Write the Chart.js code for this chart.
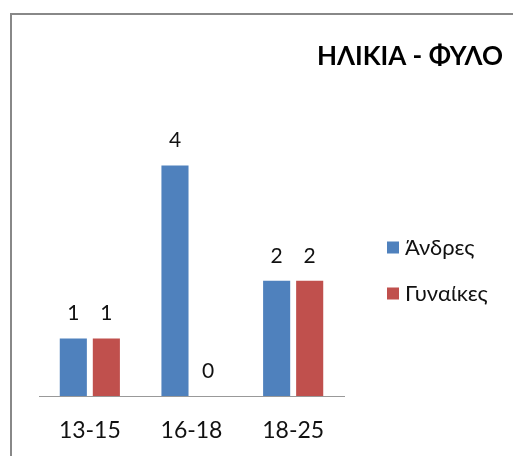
<!DOCTYPE html>
<html>
<head>
<meta charset="utf-8">
<script src="https://cdn.jsdelivr.net/npm/chart.js@4.4.1/dist/chart.umd.min.js"></script>
<style>
  body { margin: 0; background: #fff; overflow: hidden; }
  #wrap { position: relative; width: 513px; height: 456px; }
  #frame { position: absolute; left: 10px; top: 13px; width: 1000px; height: 1000px; border: 2px solid #888; }
  #chart { position: absolute; left: 0; top: 0; }
</style>
</head>
<body>
<div id="wrap">
  <div id="frame"></div>
  <canvas id="chart" width="513" height="456"></canvas>
</div>
<script>
// chart data
const categories = ['13-15', '16-18', '18-25'];
const men = [1, 4, 2];
const women = [1, 0, 2];
const seriesNames = ['Άνδρες', 'Γυναίκες'];
const chartTitle = 'ΗΛΙΚΙΑ - ΦΥΛΟ';

const FONT = 'Lato, "Open Sans", sans-serif';
const TEXT = '#111';

// value labels above each bar (no datalabels plugin offline)
const valueLabels = {
  id: 'valueLabels',
  afterDatasetsDraw(chart) {
    const ctx = chart.ctx;
    ctx.save();
    ctx.font = '21px ' + FONT;
    ctx.fillStyle = TEXT;
    ctx.textAlign = 'center';
    ctx.textBaseline = 'middle';
    chart.data.datasets.forEach((ds, i) => {
      chart.getDatasetMeta(i).data.forEach((bar, j) => {
        ctx.fillText(ds.data[j], bar.x, bar.y - 25);
      });
    });
    ctx.restore();
  }
};

// title sits right-aligned and the legend floats right of the plot, like the Excel original
const titleAndLegend = {
  id: 'titleAndLegend',
  afterDraw(chart) {
    const ctx = chart.ctx;
    ctx.save();
    ctx.fillStyle = '#000';
    ctx.font = 'bold 26px ' + FONT;
    ctx.textAlign = 'right';
    ctx.textBaseline = 'middle';
    ctx.fillText(chartTitle, 503, 57);

    ctx.font = '22px ' + FONT;
    ctx.textAlign = 'left';
    chart.data.datasets.forEach((ds, i) => {
      const y = 247.5 + i * 46;
      ctx.fillStyle = ds.backgroundColor;
      ctx.fillRect(387, y - 6, 12, 12);
      ctx.fillStyle = TEXT;
      ctx.fillText(ds.label, 405, y);
    });
    ctx.restore();
  }
};

new Chart(document.getElementById('chart'), {
  type: 'bar',
  data: {
    labels: categories,
    datasets: [
      { label: seriesNames[0], data: men, backgroundColor: '#4F81BD' },
      { label: seriesNames[1], data: women, backgroundColor: '#C0504D' }
    ]
  },
  options: {
    responsive: false,
    animation: false,
    events: [],
    layout: { padding: { left: 39, right: 169, top: 108, bottom: 0 } },
    datasets: {
      bar: { categoryPercentage: 0.65, barPercentage: 0.82 }
    },
    scales: {
      x: {
        grid: { display: false, drawTicks: false },
        border: { display: true, color: '#999', width: 1 },
        ticks: { color: TEXT, font: { family: FONT, size: 23 }, padding: 21 },
        afterFit: (s) => { s.height = 60; }
      },
      y: {
        display: false,
        min: 0,
        max: 5
      }
    },
    plugins: {
      title: { display: false },
      legend: { display: false },
      tooltip: { enabled: false }
    }
  },
  plugins: [valueLabels, titleAndLegend]
});
</script>
</body>
</html>
